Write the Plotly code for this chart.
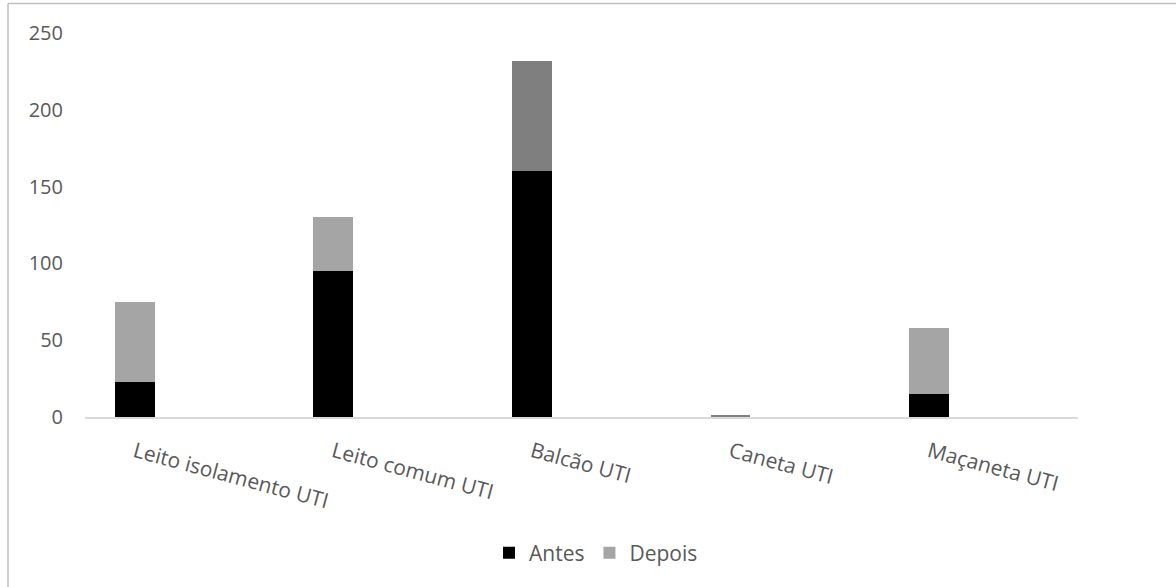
import plotly.graph_objects as go

# Surface categories and counts before/after
categorias = ["Leito isolamento UTI", "Leito comum UTI", "Balcão UTI", "Caneta UTI", "Maçaneta UTI"]
antes = [23, 95, 160, 0, 15]
depois = [52, 35, 72, 1, 43]
cores_depois = ["#a5a5a5", "#a5a5a5", "#7f7f7f", "#808080", "#a5a5a5"]
y_ticks = [0, 50, 100, 150, 200, 250]

W, H = 1176, 587
ML, MR, MT, MB = 85, 98, 33, 170
PW, PH = W - ML - MR, H - MT - MB

pos = list(range(len(categorias)))
BAR_W = 0.2
BAR_OFF = -0.35

fig = go.Figure()
fig.add_trace(go.Bar(
    x=pos, y=antes, name="Antes",
    marker=dict(color="#000000", line=dict(width=0)),
    width=BAR_W, offset=BAR_OFF,
))
fig.add_trace(go.Bar(
    x=pos, y=depois, name="Depois",
    marker=dict(color=cores_depois, line=dict(width=0)),
    width=BAR_W, offset=BAR_OFF,
))


def px_x(px):
    return (px - ML) / PW


def px_y(py):
    return (H - MB - py) / PH


# outer chart frame (left and top edges)
frame = dict(color="#bfbfbf", width=1.5)
shapes = [
    dict(type="line", xref="paper", yref="paper",
         x0=px_x(8), x1=px_x(8), y0=px_y(3.5), y1=px_y(H + 5), line=frame),
    dict(type="line", xref="paper", yref="paper",
         x0=px_x(8), x1=px_x(W + 5), y0=px_y(3.5), y1=px_y(3.5), line=frame),
]

fig.update_layout(
    width=W, height=H,
    margin=dict(l=ML, r=MR, t=MT, b=MB),
    barmode="stack",
    paper_bgcolor="white", plot_bgcolor="white",
    font=dict(family="Open Sans", color="#595959", size=20),
    showlegend=True,
    legend=dict(
        orientation="h", x=px_x(596), xanchor="center",
        y=px_y(553), yanchor="middle",
        font=dict(size=21, color="#595959"),
        itemwidth=30, traceorder="normal",
    ),
    shapes=shapes,
    xaxis=dict(
        range=[-0.5, len(categorias) - 0.5],
        tickmode="array",
        tickvals=[p - 0.25 for p in pos],
        ticktext=categorias,
        tickangle=15,
        ticks="", showgrid=False, zeroline=False,
        showline=True, linecolor="#d9d9d9", linewidth=1.5,
        tickfont=dict(size=21, color="#595959"),
        ticklabelstandoff=13,
        fixedrange=True,
    ),
    yaxis=dict(
        range=[0, 250],
        tickmode="array", tickvals=y_ticks,
        ticks="", showgrid=False, zeroline=False, showline=False,
        tickfont=dict(size=20, color="#595959"),
        ticklabelstandoff=21,
        fixedrange=True,
    ),
)

fig.write_html("out.html")
